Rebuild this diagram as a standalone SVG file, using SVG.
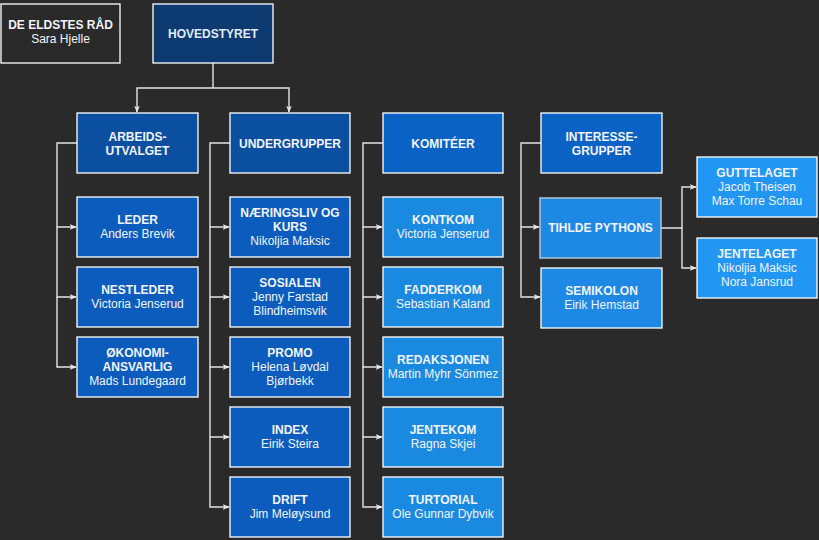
<svg xmlns="http://www.w3.org/2000/svg" width="819" height="540" viewBox="0 0 819 540">
<defs>
<marker id="arr" viewBox="0 0 10 10" refX="9" refY="5" markerWidth="7" markerHeight="7" orient="auto" markerUnits="userSpaceOnUse">
<path d="M0,1 L10,5 L0,9 L2.5,5 Z" fill="#e8e8e8"/>
</marker>
<style>
.bx{stroke:#ffffff;stroke-width:1.3}
.t{font-family:"Liberation Sans",Arial,sans-serif;font-size:12px;fill:#f2f4f8;text-anchor:middle}
.b{font-weight:bold}
.c{fill:none;stroke:#e4e4e4;stroke-width:1.4;marker-end:url(#arr)}
.cn{fill:none;stroke:#e4e4e4;stroke-width:1.4}
.l0{fill:#0b4fa0}
.l1{fill:#0b5cbc}
.l2{fill:#0a62c4}
.l3{fill:#1a8ae0}
.l4{fill:#2196f3}
</style>
</defs>
<rect width="819" height="540" fill="#2a2a2a"/>
<g id="connectors">
<path class="cn" d="M213 63 V88"/>
<path class="c" d="M213 88 H137 V112"/>
<path class="c" d="M213 88 H289 V112"/>
<path class="c" d="M77 143 H57 V227 H76"/>
<path class="c" d="M57 227 V297 H76"/>
<path class="c" d="M57 297 V367 H76"/>
<path class="c" d="M230 143 H210 V227 H229"/>
<path class="c" d="M210 227 V297 H229"/>
<path class="c" d="M210 297 V367 H229"/>
<path class="c" d="M210 367 V437 H229"/>
<path class="c" d="M210 437 V507 H229"/>
<path class="c" d="M383 143 H363 V227 H382"/>
<path class="c" d="M363 227 V297 H382"/>
<path class="c" d="M363 297 V367 H382"/>
<path class="c" d="M363 367 V437 H382"/>
<path class="c" d="M363 437 V507 H382"/>
<path class="c" d="M541 143 H521 V227 H539"/>
<path class="c" d="M521 227 V297 H540"/>
<path class="c" d="M661 228 H682 V187 H696"/>
<path class="c" d="M682 228 V268 H696"/>
</g>
<g id="eldstes"><rect class="bx" x="1" y="4" width="119" height="59" fill="#2a2a2a"/><text class="t b" x="60.5" y="29">DE ELDSTES RÅD</text><text class="t" x="60.5" y="43">Sara Hjelle</text></g>
<g id="hovedstyret"><rect class="bx" x="153" y="4" width="120" height="59" fill="#0d3a70"/><text class="t b" x="213" y="38" style="fill:#e2ecf8">HOVEDSTYRET</text></g>
<g id="arbeidsutvalget"><rect class="bx l0" x="77" y="113" width="121" height="60"/><text class="t b" x="137.5" y="141">ARBEIDS-</text><text class="t b" x="137.5" y="155">UTVALGET</text></g>
<g id="undergrupper"><rect class="bx l0" x="230" y="113" width="120" height="60"/><text class="t b" x="290" y="148">UNDERGRUPPER</text></g>
<g id="komiteer"><rect class="bx l2" x="383" y="113" width="120" height="60"/><text class="t b" x="443" y="148">KOMITÉER</text></g>
<g id="interessegrupper"><rect class="bx l2" x="541" y="113" width="121" height="60"/><text class="t b" x="601.5" y="141">INTERESSE-</text><text class="t b" x="601.5" y="155">GRUPPER</text></g>
<g id="leder"><rect class="bx l1" x="77" y="197" width="121" height="60"/><text class="t b" x="137.5" y="224">LEDER</text><text class="t" x="137.5" y="238">Anders Brevik</text></g>
<g id="nestleder"><rect class="bx l1" x="77" y="267" width="121" height="60"/><text class="t b" x="137.5" y="294">NESTLEDER</text><text class="t" x="137.5" y="308">Victoria Jenserud</text></g>
<g id="okonomi"><rect class="bx l1" x="77" y="337" width="121" height="60"/><text class="t b" x="137.5" y="357">ØKONOMI-</text><text class="t b" x="137.5" y="371">ANSVARLIG</text><text class="t" x="137.5" y="385">Mads Lundegaard</text></g>
<g id="naeringsliv"><rect class="bx l1" x="230" y="197" width="120" height="60"/><text class="t b" x="290" y="217">NÆRINGSLIV OG</text><text class="t b" x="290" y="231">KURS</text><text class="t" x="290" y="245">Nikoljia Maksic</text></g>
<g id="sosialen"><rect class="bx l1" x="230" y="267" width="120" height="60"/><text class="t b" x="290" y="287">SOSIALEN</text><text class="t" x="290" y="301">Jenny Farstad</text><text class="t" x="290" y="315">Blindheimsvik</text></g>
<g id="promo"><rect class="bx l1" x="230" y="337" width="120" height="60"/><text class="t b" x="290" y="357">PROMO</text><text class="t" x="290" y="371">Helena Løvdal</text><text class="t" x="290" y="385">Bjørbekk</text></g>
<g id="index"><rect class="bx l1" x="230" y="407" width="120" height="60"/><text class="t b" x="290" y="434">INDEX</text><text class="t" x="290" y="448">Eirik Steira</text></g>
<g id="drift"><rect class="bx l1" x="230" y="477" width="120" height="60"/><text class="t b" x="290" y="504">DRIFT</text><text class="t" x="290" y="518">Jim Meløysund</text></g>
<g id="kontkom"><rect class="bx l3" x="383" y="197" width="120" height="60"/><text class="t b" x="443" y="224">KONTKOM</text><text class="t" x="443" y="238">Victoria Jenserud</text></g>
<g id="fadderkom"><rect class="bx l3" x="383" y="267" width="120" height="60"/><text class="t b" x="443" y="294">FADDERKOM</text><text class="t" x="443" y="308">Sebastian Kaland</text></g>
<g id="redaksjonen"><rect class="bx l3" x="383" y="337" width="120" height="60"/><text class="t b" x="443" y="364">REDAKSJONEN</text><text class="t" x="443" y="378">Martin Myhr Sönmez</text></g>
<g id="jentekom"><rect class="bx l3" x="383" y="407" width="120" height="60"/><text class="t b" x="443" y="434">JENTEKOM</text><text class="t" x="443" y="448">Ragna Skjei</text></g>
<g id="turtorial"><rect class="bx l3" x="383" y="477" width="120" height="60"/><text class="t b" x="443" y="504">TURTORIAL</text><text class="t" x="443" y="518">Ole Gunnar Dybvik</text></g>
<g id="tihldepythons"><rect x="540" y="198" width="121" height="60" fill="#1e88e5" stroke="#a8bdd3" stroke-width="1.6"/><text class="t b" x="600.5" y="232">TIHLDE PYTHONS</text></g>
<g id="semikolon"><rect class="bx" x="541" y="268" width="121" height="60" fill="#1e88e5"/><text class="t b" x="601.5" y="295">SEMIKOLON</text><text class="t" x="601.5" y="309">Eirik Hemstad</text></g>
<g id="guttelaget"><rect class="bx l4" x="697" y="157" width="120" height="60"/><text class="t b" x="757" y="204" dy="-27">GUTTELAGET</text><text class="t" x="757" y="191">Jacob Theisen</text><text class="t" x="757" y="205">Max Torre Schau</text></g>
<g id="jentelaget"><rect class="bx l4" x="697" y="238" width="120" height="60"/><text class="t b" x="757" y="258">JENTELAGET</text><text class="t" x="757" y="272">Nikoljia Maksic</text><text class="t" x="757" y="286">Nora Jansrud</text></g>
</svg>
